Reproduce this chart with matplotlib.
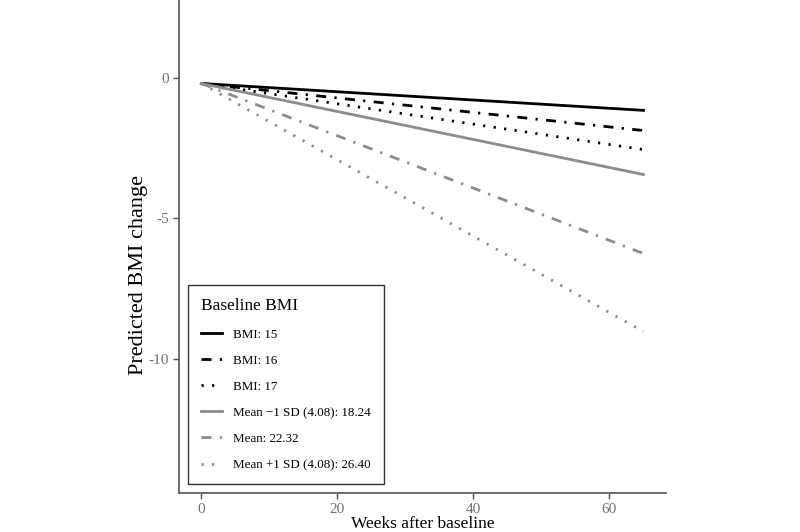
import numpy as np
import matplotlib
matplotlib.use('Agg')
import matplotlib.pyplot as plt

plt.rcParams['font.family'] = ['Liberation Serif', 'DejaVu Serif']
plt.rcParams['lines.scale_dashes'] = False
plt.rcParams['axes.unicode_minus'] = False

# predicted change, straight lines from week 0 to week 65
weeks = [0, 65]
labels = ['BMI: 15', 'BMI: 16', 'BMI: 17',
          'Mean \u22121 SD (4.08): 18.24', 'Mean: 22.32', 'Mean +1 SD (4.08): 26.40']
start_vals = [-0.18, -0.18, -0.18, -0.18, -0.18, -0.18]
end_vals = [-1.14, -1.86, -2.54, -3.43, -6.25, -9.04]

blk = '#000000'
gry = '#8c8c8c'
dashdot = (0, (7.2, 6.0, 1.6, 6.0))
dots = (0, (1.6, 6.0))
styles = [('-', blk), (dashdot, blk), (dots, blk),
          ('-', gry), (dashdot, gry), (dots, gry)]

fig = plt.figure(figsize=(8, 5.32), dpi=100)
ax = fig.add_axes([0.224, 0.0733, 0.608, 0.9267])

for lab, s, e, (ls, c) in zip(labels, start_vals, end_vals, styles):
	ax.plot(weeks, [s, e], linestyle=ls, color=c, lw=2.0, label=lab,
			dash_capstyle='butt')

ax.set_xlim(-3.25, 68.25)
ax.set_ylim(-14.8, 2.8)
ax.set_xticks([0, 20, 40, 60])
ax.set_yticks([0, -5, -10])
for sp in ['top', 'right']:
	ax.spines[sp].set_visible(False)
for sp in ['left', 'bottom']:
	ax.spines[sp].set_color('#555555')
	ax.spines[sp].set_linewidth(1.2)
ax.tick_params(colors='#555555', labelcolor='#707070', labelsize=11, length=4, width=1.0)

ax.set_xlabel('Weeks after baseline', fontsize=12.5, labelpad=0)
ax.set_ylabel('Predicted BMI change', fontsize=16)
ax.yaxis.set_label_coords(-0.065, 0.442)

leg = ax.legend(title='Baseline BMI', loc='lower left', bbox_to_anchor=(0.018, 0.018),
				fontsize=9.4, title_fontsize=12.4, frameon=True, fancybox=False,
				edgecolor='black', handlelength=1.6, labelspacing=1.07,
				borderpad=1.0, handletextpad=0.85, borderaxespad=0)
leg._legend_box.align = 'left'
leg.get_frame().set_linewidth(1.0)

fig.savefig('out.png', dpi=100)
